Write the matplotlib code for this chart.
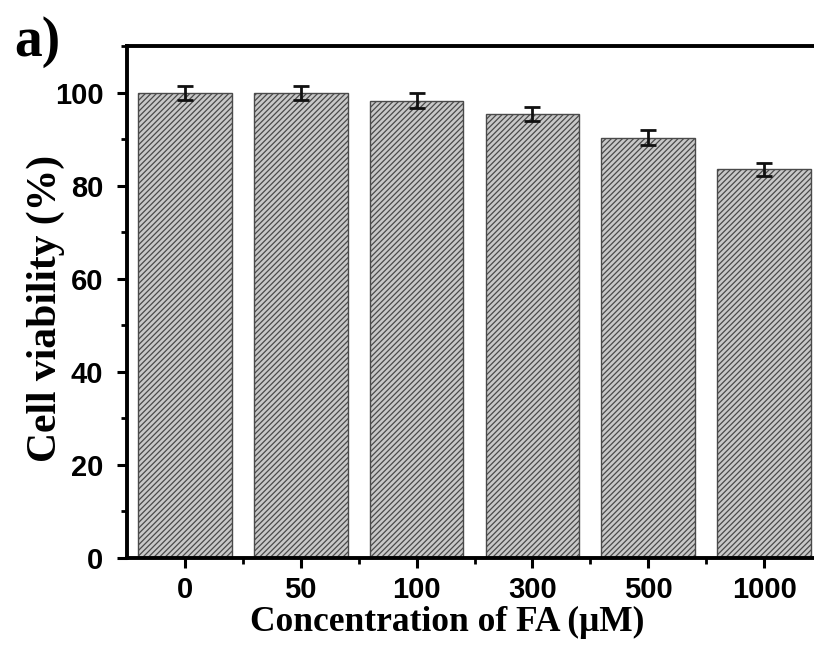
import matplotlib
matplotlib.use('agg')
import matplotlib.pyplot as plt
from matplotlib.ticker import MultipleLocator
import numpy as np

conc = ['0', '50', '100', '300', '500', '1000']
viability = [100.0, 99.8, 98.2, 95.3, 90.3, 83.5]
err = [1.5, 1.5, 1.6, 1.5, 1.6, 1.4]

plt.rcParams['hatch.color'] = '#4a4a4a'
plt.rcParams['hatch.linewidth'] = 0.9

fig = plt.figure(figsize=(8.14, 6.46), dpi=100)
# axes run a little past the right edge, as in the cropped original
ax = fig.add_axes([127/814, 1 - 558/646, (822 - 127)/814, (558 - 46)/646])

x = np.arange(len(conc))
ax.bar(x, viability, width=0.81, color='#c8c8c8', edgecolor='#4a4a4a',
       hatch='//////', linewidth=1.0, zorder=2)
ax.errorbar(x, viability, yerr=err, fmt='none', ecolor='#111111',
            elinewidth=2.0, capsize=6, capthick=2.0, zorder=3)

ax.set_xlim(-0.5, 5.5)
ax.set_ylim(0, 110)
ax.set_xticks(x)
ax.set_xticklabels(conc)
ax.set_xticks(x + 0.5, minor=True)
ax.yaxis.set_major_locator(MultipleLocator(20))
ax.yaxis.set_minor_locator(MultipleLocator(10))

for s in ['left', 'bottom', 'top']:
    ax.spines[s].set_linewidth(2.8)
ax.spines['right'].set_visible(False)

ax.tick_params(axis='both', which='major', direction='out', length=7, width=2.2,
               labelsize=21)
ax.tick_params(axis='y', which='major', pad=10)
ax.tick_params(axis='x', which='major', pad=6)
ax.tick_params(axis='both', which='minor', direction='out', length=4.5, width=2.0)
for lab in ax.get_xticklabels() + ax.get_yticklabels():
    lab.set_fontfamily('Liberation Sans')
    lab.set_fontweight('bold')

ax.set_xlabel('Concentration of FA (\u03bcM)', fontsize=25.5, fontweight='bold',
              fontfamily='Liberation Serif')
ax.set_ylabel('Cell viability (%)', fontsize=30, fontweight='bold',
              fontfamily='Liberation Serif')
ax.xaxis.set_label_coords(0.46, -0.094)
ax.yaxis.set_label_coords(-0.089, 0.488)

fig.text(14/814, 1 - 56/646, 'a)', fontsize=40, fontweight='bold',
         fontfamily='Liberation Serif', va='baseline')

fig.savefig('out.png', dpi=100)
